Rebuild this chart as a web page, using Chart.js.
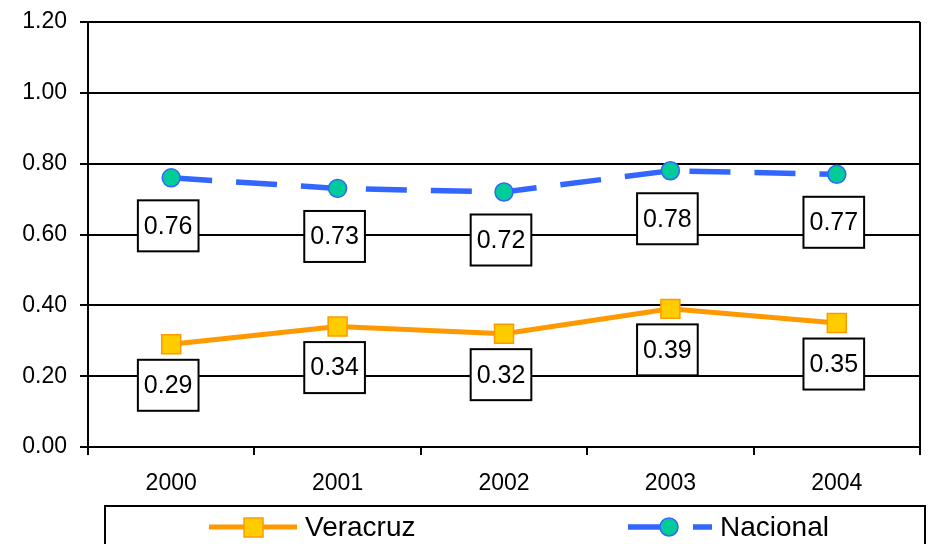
<!DOCTYPE html>
<html lang="es">
<head>
    <meta charset="UTF-8">
    <title>Veracruz vs Nacional</title>
    <style>
        * { margin: 0; padding: 0; box-sizing: border-box; }
        body { background: #fff; width: 930px; height: 544px; overflow: hidden; }
        #chart { display: block; }
    </style>
</head>
<body>
    <canvas id="chart" width="930" height="544"></canvas>
    <script src="https://cdn.jsdelivr.net/npm/chart.js@4.4.1/dist/chart.umd.min.js"></script>
    <script>
        // Data
        const years = ["2000", "2001", "2002", "2003", "2004"];
        const veracruz = [0.29, 0.34, 0.32, 0.39, 0.35];
        const nacional = [0.76, 0.73, 0.72, 0.78, 0.77];
        const seriesNames = ["Veracruz", "Nacional"];

        const FONT = "'Liberation Sans', Arial, sans-serif";

        // boxed value labels under each point
        const boxLabels = {
            id: "boxLabels",
            afterDatasetsDraw(chart) {
                const ctx = chart.ctx;
                const offsets = [41, 48];
                ctx.save();
                ctx.font = "25px " + FONT;
                ctx.textAlign = "center";
                ctx.textBaseline = "middle";
                chart.data.datasets.forEach((ds, i) => {
                    const meta = chart.getDatasetMeta(i);
                    meta.data.forEach((pt, j) => {
                        const txt = ds.data[j].toFixed(2);
                        const w = ctx.measureText(txt).width + 12;
                        const h = 51;
                        const cx = pt.x - 3;
                        const cy = pt.y + offsets[i];
                        ctx.fillStyle = "#fff";
                        ctx.fillRect(cx - w / 2, cy - h / 2, w, h);
                        ctx.strokeStyle = "#000";
                        ctx.lineWidth = 2;
                        ctx.strokeRect(cx - w / 2, cy - h / 2, w, h);
                        ctx.fillStyle = "#000";
                        ctx.fillText(txt, cx, cy + 1);
                    });
                });
                ctx.restore();
            }
        };

        // right border + legend box at the bottom
        const frameAndLegend = {
            id: "frameAndLegend",
            afterDraw(chart) {
                const ctx = chart.ctx;
                const a = chart.chartArea;
                ctx.save();
                ctx.strokeStyle = "#000";
                ctx.lineWidth = 2;
                ctx.beginPath();
                ctx.moveTo(a.right, a.top);
                ctx.lineTo(a.right, a.bottom);
                ctx.stroke();

                ctx.strokeRect(105, 506, 820, 60);

                const ly = 527;
                const ds = chart.data.datasets;
                // Veracruz entry
                ctx.strokeStyle = ds[0].borderColor;
                ctx.lineWidth = 5;
                ctx.beginPath();
                ctx.moveTo(209, ly);
                ctx.lineTo(297, ly);
                ctx.stroke();
                ctx.fillStyle = ds[0].pointBackgroundColor;
                ctx.fillRect(244, ly - 9, 19, 19);
                ctx.lineWidth = 1.5;
                ctx.strokeRect(244, ly - 9, 19, 19);

                // Nacional entry
                ctx.strokeStyle = ds[1].borderColor;
                ctx.lineWidth = 5.5;
                ctx.setLineDash(ds[1].borderDash);
                ctx.beginPath();
                ctx.moveTo(628, ly);
                ctx.lineTo(712, ly);
                ctx.stroke();
                ctx.setLineDash([]);
                ctx.fillStyle = ds[1].pointBackgroundColor;
                ctx.lineWidth = 1.5;
                ctx.beginPath();
                ctx.arc(669, ly, 9, 0, Math.PI * 2);
                ctx.fill();
                ctx.stroke();

                ctx.fillStyle = "#000";
                ctx.font = "28px " + FONT;
                ctx.textBaseline = "middle";
                ctx.textAlign = "left";
                ctx.fillText(ds[0].label, 305, ly + 1);
                ctx.fillText(ds[1].label, 720, ly + 1);
                ctx.restore();
            }
        };

        new Chart(document.getElementById("chart"), {
            type: "line",
            data: {
                labels: years,
                datasets: [
                    {
                        label: seriesNames[0],
                        data: veracruz,
                        borderColor: "#ff9900",
                        borderWidth: 5,
                        pointStyle: "rect",
                        pointRadius: 13.4,
                        pointBackgroundColor: "#ffcc00",
                        pointBorderColor: "#ff9900",
                        pointBorderWidth: 1.5,
                        tension: 0
                    },
                    {
                        label: seriesNames[1],
                        data: nacional,
                        borderColor: "#3366ff",
                        borderWidth: 5.5,
                        borderDash: [41, 24],
                        pointStyle: "circle",
                        pointRadius: 9,
                        pointBackgroundColor: "#00cc99",
                        pointBorderColor: "#3366ff",
                        pointBorderWidth: 1.5,
                        tension: 0
                    }
                ]
            },
            options: {
                responsive: false,
                animation: false,
                layout: {
                    autoPadding: false,
                    padding: { top: 22, right: 10, left: 0, bottom: 0 }
                },
                plugins: {
                    legend: { display: false },
                    tooltip: { enabled: false },
                    title: { display: false }
                },
                scales: {
                    x: {
                        offset: true,
                        grid: {
                            offset: true,
                            drawOnChartArea: false,
                            color: "#000",
                            lineWidth: 2,
                            tickLength: 8
                        },
                        border: { color: "#000", width: 2 },
                        ticks: {
                            color: "#000",
                            font: { family: FONT, size: 23 },
                            padding: 15,
                            maxRotation: 0
                        },
                        afterFit(scale) { scale.height = 97; }
                    },
                    y: {
                        min: 0,
                        max: 1.2,
                        grid: { color: "#000", lineWidth: 2, tickLength: 8 },
                        border: { color: "#000", width: 2 },
                        ticks: {
                            stepSize: 0.2,
                            color: "#000",
                            font: { family: FONT, size: 23 },
                            padding: 13,
                            callback: (v) => Number(v).toFixed(2)
                        },
                        afterFit(scale) {
                            scale.width = 88;
                            scale.paddingTop = 0;
                            scale.paddingBottom = 0;
                        }
                    }
                }
            },
            plugins: [boxLabels, frameAndLegend]
        });
    </script>
</body>
</html>
